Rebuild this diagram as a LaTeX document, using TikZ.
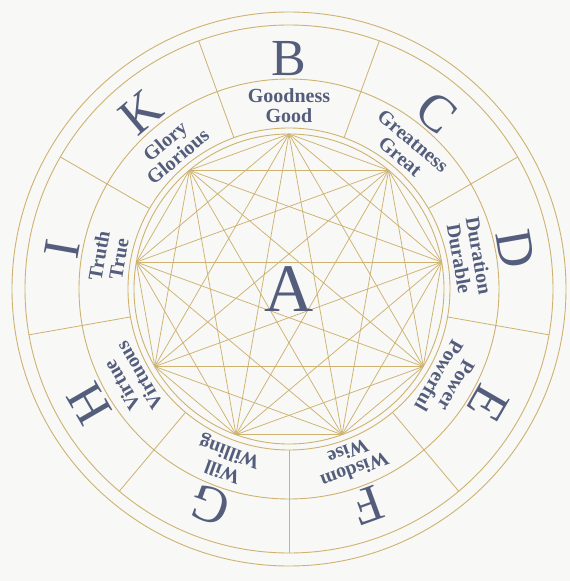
\documentclass[tikz,border=0pt]{standalone}
\usepackage{fontspec}
\setmainfont{Liberation Serif}
\usepackage{tikz}
\usetikzlibrary{positioning,calc}
\usepackage{xcolor}
\definecolor{llgold}{RGB}{206,178,112}
\definecolor{llink}{RGB}{84,94,124}
\definecolor{llpaper}{RGB}{248,248,246}
\tikzset{
    ring/.style={draw=llgold, line width=0.9pt},
    chord/.style={draw=llgold, line width=0.75pt},
    spoke/.style={draw=llgold, line width=0.8pt},
    letr/.style={text=llink, inner sep=0pt, font=\fontsize{52}{52}\selectfont},
    attr/.style={text=llink, inner sep=0pt, align=center,
                 font=\fontsize{20}{20}\selectfont\bfseries},
    bigA/.style={text=llink, inner sep=0pt, font=\fontsize{68}{68}\selectfont},
}

\begin{document}
\begin{tikzpicture}[x=1pt, y=1pt]
    \fill[llpaper] (-289,-292) rectangle (281,289);
    \useasboundingbox (-289,-292) rectangle (281,289);
    % rings
    \draw[ring] (0,0) circle (155);
    \draw[ring] (0,0) circle (161);
    \draw[ring] (0,0) circle (210);
    \draw[ring] (0,0) circle (264);
    \draw[ring] (0,0) circle (277);
    % sector dividers
    \foreach \k in {0,...,8} {
        \draw[spoke] (70-40*\k:161) -- (70-40*\k:264);
    }
    % nine points of the figure
    \foreach \i in {0,...,8} {
        \coordinate (p\i) at (90-40*\i:155);
    }
    \foreach \i in {0,...,7} {
        \pgfmathtruncatemacro\nxt{\i+1}
        \foreach \j in {\nxt,...,8} {
            \draw[chord] (p\i) -- (p\j);
        }
    }
    % letters and dignities
    \foreach \ltr/\nm/\adj [count=\i from 0] in {B/Goodness/Good, C/Greatness/Great,
            D/Duration/Durable, E/Power/Powerful, F/Wisdom/Wise, G/Will/Willing,
            H/Virtue/Virtuous, I/Truth/True, K/Glory/Glorious} {
        \node[letr, rotate=-40*\i] (l\i) at (90-40*\i:230) {\ltr};
        \node[attr, rotate=-40*\i] (lab\i) at (90-40*\i:183) {\nm\\\adj};
    }
    \node[bigA] (a) at (0,0) {A};
\end{tikzpicture}
\end{document}
